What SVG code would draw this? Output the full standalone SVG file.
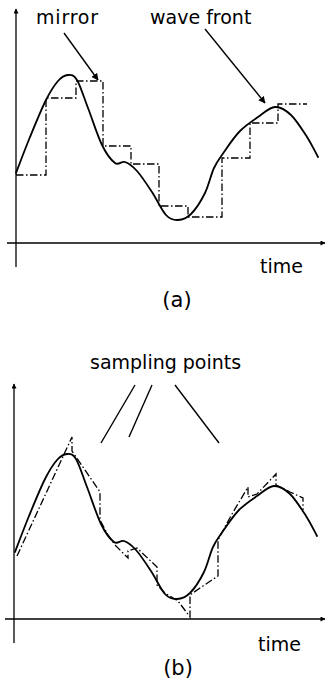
<svg xmlns="http://www.w3.org/2000/svg" width="326" height="683" viewBox="0 0 326 683">
<style>
.txt{font-family:"DejaVu Sans",sans-serif;font-size:19px;fill:#000}
.lbl{font-family:"DejaVu Sans",sans-serif;font-size:21px;fill:#000}
.axis{stroke:#000;stroke-width:1.3;fill:none}
.curve{stroke:#000;stroke-width:1.8;fill:none;stroke-linejoin:round;stroke-linecap:round}
.dd{stroke:#000;stroke-width:1.3;fill:none;stroke-dasharray:7.5 2.5 1.5 2.5;stroke-linejoin:miter}
.ptr{stroke:#000;stroke-width:1.4;fill:none}
</style>
<defs>
<marker id="ah" viewBox="0 0 10 10" refX="9" refY="5" markerWidth="7" markerHeight="7" markerUnits="userSpaceOnUse" orient="auto">
<path d="M0,0 L10,5 L0,10 z" fill="#000"/>
</marker>
<marker id="axh" viewBox="0 0 10 10" refX="9" refY="5" markerWidth="6" markerHeight="5" markerUnits="userSpaceOnUse" orient="auto">
<path d="M0,0 L10,5 L0,10 z" fill="#000"/>
</marker>
<path id="wave" d="M16,173 C18.3,167 25,149.2 30,137 C35,124.8 41.3,109.3 46,100 C50.7,90.7 54.3,85.2 58,81 C61.7,76.8 64.8,75.2 68,75 C71.2,74.8 73.7,74.5 77,80 C80.3,85.5 83.8,97.2 88,108 C92.2,118.8 97.5,135.8 102,145 C106.5,154.2 111.2,160.2 115,163 C118.8,165.8 121.3,160.7 125,162 C128.7,163.3 132.5,166 137,171 C141.5,176 147.2,184.7 152,192 C156.8,199.3 161.7,210.3 166,215 C170.3,219.7 173.8,220.2 178,220 C182.2,219.8 186.5,218.5 191,214 C195.5,209.5 201.2,200.7 205,193 C208.8,185.3 210.8,174.8 214,168 C217.2,161.2 219.7,158.2 224,152 C228.3,145.8 234.3,136.8 240,131 C245.7,125.2 252.2,121 258,117 C263.8,113 269.5,107.3 275,107 C280.5,106.7 285.7,110 291,115 C296.3,120 302.5,130 307,137 C311.5,144 316.2,153.7 318,157"/>
</defs>
<rect width="326" height="683" fill="#fff"/>

<g id="panel-a">
<g id="axes-a">
<line class="axis" x1="16" y1="267" x2="16" y2="9" marker-end="url(#axh)"/>
<line class="axis" x1="7" y1="243" x2="325" y2="243" marker-end="url(#axh)"/>
</g>
<g id="wave-a"><use href="#wave" class="curve"/></g>
<g id="mirror-a">
<polyline class="dd" points="16,175 46,175 46,98 76,98 76,81 103,81 103,146 131,146 131,164 159,164 159,206 188,206 188,217 222,217 222,158 250,158 250,123 278,123 278,104 307,104"/>
</g>
<g id="connectors-a">
<line class="ptr" x1="64" y1="33" x2="98" y2="80" marker-end="url(#ah)"/>
<line class="ptr" x1="205" y1="29" x2="265" y2="103" marker-end="url(#ah)"/>
</g>
<text class="txt" x="36" y="24" letter-spacing="0.8">mirror</text>
<text class="txt" x="150" y="24">wave front</text>
<text class="txt" x="260" y="273">time</text>
<text class="lbl" x="177" y="307" text-anchor="middle">(a)</text>
</g>

<g id="panel-b">
<g id="axes-b">
<line class="axis" x1="14" y1="643" x2="14" y2="384" marker-end="url(#axh)"/>
<line class="axis" x1="5" y1="619" x2="325" y2="619" marker-end="url(#axh)"/>
</g>
<g id="wave-b"><use href="#wave" class="curve" transform="translate(-1,379)"/></g>
<g id="chords-b">
<polyline class="dd" points="17,556 72,437 72,451 100,492 100,520 108,535 115,545 128,558 128,551 137,548 157,567 157,585 165,593 178,601 190,617 190,595 200,588 218,576 218,540 226,525 232,514 248,487 248,497 257,494 276,474 276,485 290,492 303,498 303,510"/>
</g>
<g id="connectors-b">
<line class="ptr" x1="135" y1="385" x2="101" y2="443"/>
<line class="ptr" x1="152" y1="385" x2="129" y2="437"/>
<line class="ptr" x1="175" y1="385" x2="219" y2="443"/>
</g>
<text class="txt" x="90" y="369">sampling points</text>
<text class="txt" x="258" y="651">time</text>
<text class="lbl" x="178" y="675" text-anchor="middle">(b)</text>
</g>
</svg>
